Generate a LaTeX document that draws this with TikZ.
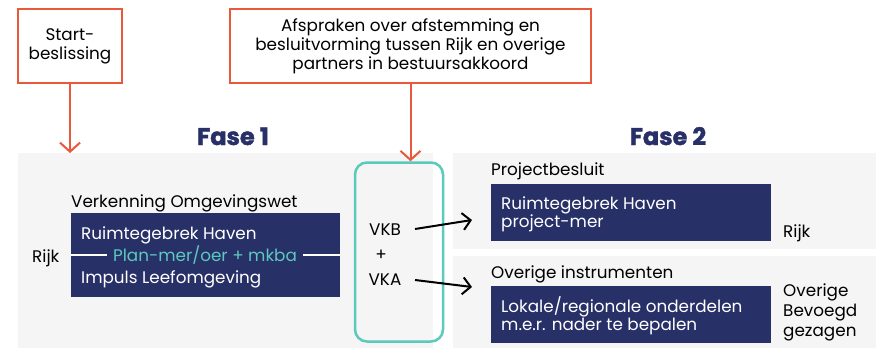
\documentclass[tikz,border=0pt]{standalone}
\usepackage{fontspec}
\setmainfont{Poppins}
\newfontfamily\fasefont{Poppins}[BoldFeatures={FakeBold=1.6}]
\usetikzlibrary{arrows.meta}
\definecolor{callred}{HTML}{E8583A}
\definecolor{navy}{HTML}{283068}
\definecolor{tealc}{HTML}{5BC9BC}
\definecolor{panelgray}{HTML}{F5F5F5}
\tikzset{
  body/.style={font=\fontsize{16.8}{19}\selectfont, inner sep=0pt},
  txt/.style={body, anchor=base west},
  wtxt/.style={txt, text=white},
  callout/.style={draw=callred, line width=2pt, fill=white, align=center,
    font=\fontsize{16.8}{19}\selectfont},
  navybox/.style={fill=navy, inner sep=0pt},
  panel/.style={fill=panelgray},
  fasetitle/.style={font=\fontsize{24}{26}\selectfont\fasefont\bfseries, text=navy, anchor=base, inner sep=0pt},
  redarrow/.style={draw=callred, line width=2pt, -{Straight Barb[length=9pt, width=20pt, line width=2pt]}},
  blackarrow/.style={draw=black, line width=2pt, -{Straight Barb[length=8pt, width=17pt, line width=2pt]}},
}
\begin{document}
\begin{tikzpicture}[x=1pt, y=-1pt]
\useasboundingbox (0,0) rectangle (876,348);

% background panels of both phases
\fill[panel] (18,153) rectangle (433,348);
\fill[panel] (453,153) rectangle (876,249);
\fill[panel] (453,256) rectangle (876,348);

% phase titles
\node[fasetitle] (fase1) at (233,145) {Fase 1};
\node[fasetitle] (fase2) at (668,145) {Fase 2};

% top callouts
\node[callout, minimum width=104pt, minimum height=74pt] (start) at (70,46) {Start-\\beslissing};
\node[callout, minimum width=361pt, minimum height=74pt] (afspr) at (410.5,46)
  {Afspraken over afstemming en\\besluitvorming tussen Rijk en overige\\partners in bestuursakkoord};

% decision box VKB + VKA
\node[draw=tealc, line width=2.5pt, rounded corners=12pt, minimum width=88pt, minimum height=179pt] (vk) at (399,252) {};
\node[body] (vkb) at (385,230) {VKB};
\node[body] (plus) at (381,255) {+};
\node[body] (vka) at (385,280) {VKA};

% phase 1 content
\node[txt] (verk) at (71,207) {Verkenning Omgevingswet};
\node[navybox, minimum width=269pt, minimum height=84pt] (box1) at (205.5,255) {};
\node[wtxt] (rh1) at (81,239) {Ruimtegebrek Haven};
\node[wtxt] (il) at (81,283) {Impuls Leefomgeving};
\node[body, text=tealc, inner xsep=6pt] (plan) at (205,255) {Plan-mer/oer + mkba};
\draw[white, line width=1.5pt] (box1.west) -- (plan.west);
\draw[white, line width=1.5pt] (plan.east) -- (box1.east);
\node[txt] (rijk1) at (32,262) {Rijk};

% phase 2: project decision
\node[txt] (pb) at (491,175) {Projectbesluit};
\node[navybox, minimum width=280pt, minimum height=57pt] (box2) at (631,212.5) {};
\node[wtxt] (rh2) at (501,209) {Ruimtegebrek Haven};
\node[wtxt] (pm) at (501,227) {project-mer};
\node[txt] (rijk2) at (783,237) {Rijk};

% phase 2: other instruments
\node[txt] (oi) at (491,278) {Overige instrumenten};
\node[navybox, minimum width=280pt, minimum height=57pt] (box3) at (631,314.5) {};
\node[wtxt] (lok) at (501,312) {Lokale/regionale onderdelen};
\node[wtxt] (mer) at (501,330) {m.e.r. nader te bepalen};
\node[txt] (ov1) at (783,296) {Overige};
\node[txt] (ov2) at (783,316) {Bevoegd};
\node[txt] (ov3) at (783,336) {gezagen};

% connectors
\coordinate (f1in) at (70,153);
\draw[redarrow] (start.south) -- (f1in);
\draw[redarrow] (afspr.south) -- (afspr.south |- vk.north);
\coordinate (vkbout) at (415,229);
\coordinate (vkaout) at (415,280);
\coordinate (pbin) at (472,220);
\coordinate (oiin) at (472,287);
\draw[blackarrow] (vkbout) -- (pbin);
\draw[blackarrow] (vkaout) -- (oiin);
\end{tikzpicture}
\end{document}
